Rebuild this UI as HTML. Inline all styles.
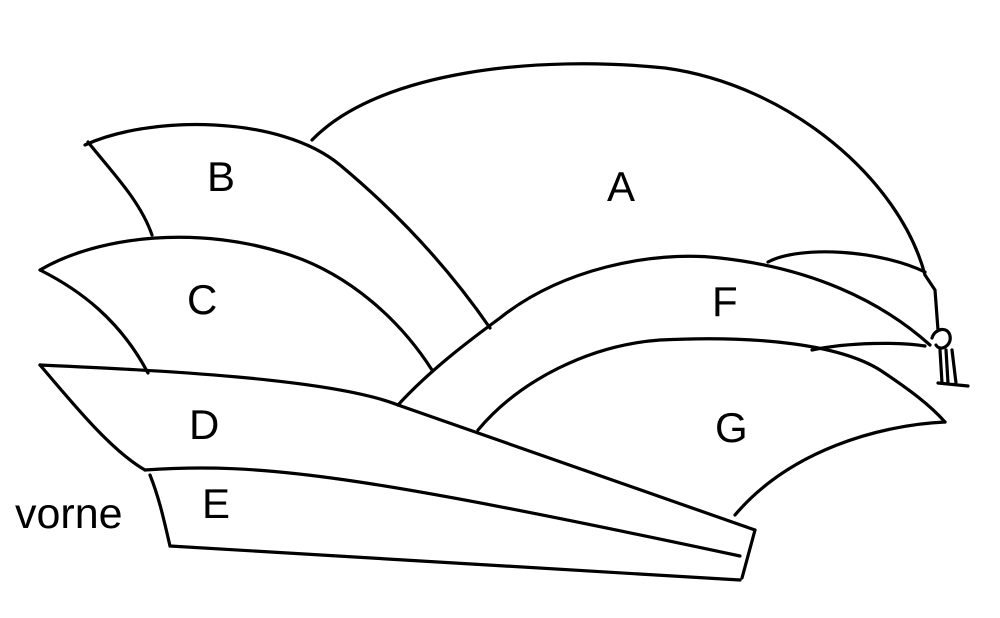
<!DOCTYPE html>
<html><head><meta charset="utf-8"><style>
html,body{margin:0;padding:0;background:#fff;}
svg{display:block}
text{font-family:"Liberation Sans",sans-serif;fill:#000}
</style></head><body>
<svg width="1000" height="618" viewBox="0 0 1000 618" xmlns="http://www.w3.org/2000/svg">
<g fill="none" stroke="#000" stroke-width="3.2" stroke-linecap="round" stroke-linejoin="round">
<path d="M312,140 C380,70 540,55 665,68 C790,85 900,180 925,275"/>
<path d="M925,275 L935,290 L938,330"/>
<path d="M768,262 C800,245 880,250 925,272"/>
<path d="M398,405 C430,370 470,340 500,318 C560,270 650,250 720,258 C810,268 880,300 930,345"/>
<path d="M478,430 C520,380 590,345 660,340 C760,335 840,345 880,370 C910,390 930,405 945,422"/>
<path d="M812,350 C850,342 900,342 925,346"/>
<path d="M945,422 C880,425 790,450 735,515"/>
<path d="M85,145 C150,115 280,115 340,165 C400,215 450,270 490,328"/>
<path d="M88,142 C110,170 140,200 152,235"/>
<path d="M40,270 C100,235 200,225 290,255 C350,275 400,320 432,370"/>
<path d="M40,270 C80,290 120,320 148,373"/>
<path d="M40,365 C150,370 330,378 398,405 L755,530"/>
<path d="M40,365 C70,400 110,450 145,470"/>
<path d="M145,470 C260,462 360,475 740,556"/>
<path d="M150,475 C160,500 165,525 170,546"/>
<path d="M170,546 L740,580"/>
<path d="M755,530 L742,578"/>
<path d="M932,338 C935,328 948,326 950,336 C952,346 940,352 936,345"/>
<path d="M940,350 L942,383 M946,350 L948,383 M952,350 L956,383 M938,383 L968,386"/>
</g>
<g font-size="42">
<text x="607" y="201">A</text>
<text x="207" y="191">B</text>
<text x="187" y="314">C</text>
<text x="189" y="439">D</text>
<text x="202" y="518">E</text>
<text x="712" y="316">F</text>
<text x="715" y="442">G</text>
</g>
<text x="15" y="528" font-size="43">vorne</text>
</svg>
</body></html>
